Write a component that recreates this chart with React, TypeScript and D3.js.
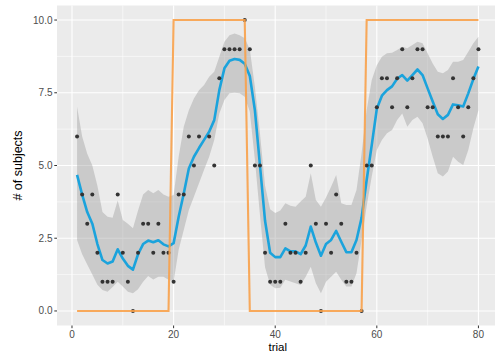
import React from "react";
import * as d3 from "d3";

// observed number of subjects per trial (trial = index + 1), null = not shown
const subjects: (number | null)[] = [
  6, 4, 3, 4, 2, 1, 1, 1, 4, 2,
  1, 0, 2, 3, 3, 2, 3, 2, 2, 1,
  4, 4, 6, 5, 6, null, 6, 5, 8, 9,
  9, 9, 9, 10, 9, 5, 5, 2, 1, 1,
  1, 3, 2, 2, 1, 2, 5, 3, 0, 3,
  2, 4, 3, 1, 1, 2, 0, 5, 5, 7,
  8, 8, 7, 8, 9, 7, 8, 9, 9, 7,
  7, 6, 6, 6, 8, 7, 6, 7, 8, 9,
];

// stimulus (orange)
const stimulus = [
  0, 0, 0, 0, 0, 0, 0, 0, 0, 0,
  0, 0, 0, 0, 0, 0, 0, 0, 0, 10,
  10, 10, 10, 10, 10, 10, 10, 10, 10, 10,
  10, 10, 10, 10, 0, 0, 0, 0, 0, 0,
  0, 0, 0, 0, 0, 0, 0, 0, 0, 0,
  0, 0, 0, 0, 0, 0, 0, 10, 10, 10,
  10, 10, 10, 10, 10, 10, 10, 10, 10, 10,
  10, 10, 10, 10, 10, 10, 10, 10, 10, 10,
];

// smooth fit and its band
const fit = [
  4.68, 4.0, 3.4, 3.0, 2.3, 1.75, 1.63, 1.7, 2.12, 1.8,
  1.55, 1.42, 1.95, 2.3, 2.42, 2.36, 2.43, 2.29, 2.22, 2.33,
  3.24, 4.04, 4.9, 5.3, 5.6, 5.88, 6.16, 6.56, 7.59, 8.34,
  8.6, 8.66, 8.63, 8.5, 8.08, 6.9, 5.0, 3.1, 2.0, 1.85,
  1.85, 2.15, 2.05, 2.05, 1.95, 2.25, 2.9, 2.35, 1.9, 2.3,
  2.44, 2.75, 2.38, 2.02, 2.02, 2.44, 3.2, 4.5, 5.7, 6.95,
  7.4, 7.59, 7.72, 7.98, 8.11, 7.92, 8.11, 8.3, 8.11, 7.65,
  7.2, 6.76, 6.6, 6.74, 7.1, 7.07, 7.03, 7.48, 7.97, 8.4,
];
const upper = [
  7.02, 6.0, 5.4, 5.0, 4.3, 3.4, 3.24, 3.2, 3.8, 3.13,
  3.0, 2.84, 3.45, 4.0, 4.16, 4.05, 4.16, 4.0, 3.93, 3.99,
  5.3, 6.33, 6.9, 7.3, 7.59, 7.77, 8.05, 8.22, 8.74, 9.25,
  9.48, 9.54, 9.48, 9.37, 9.0, 7.7, 6.1, 4.3, 3.5, 3.37,
  3.45, 3.7, 3.62, 3.58, 3.76, 3.93, 4.73, 3.81, 3.58, 3.9,
  4.27, 4.67, 3.7, 3.64, 3.64, 4.16, 5.42, 6.9, 7.94, 8.45,
  8.74, 8.86, 8.88, 8.97, 9.08, 9.03, 9.14, 9.25, 9.2, 8.86,
  8.51, 8.22, 8.17, 8.28, 8.57, 8.57, 8.63, 8.91, 9.2, 9.43,
];
const lower = [
  2.44, 1.95, 1.6, 1.25, 0.9, 0.72, 0.66, 0.82, 1.0, 0.84,
  0.66, 0.61, 0.75, 1.0, 1.2, 1.08, 1.18, 1.18, 1.07, 1.01,
  2.1, 2.78, 3.47, 3.93, 4.39, 4.85, 5.3, 5.88, 6.79, 7.25,
  7.48, 7.5, 7.48, 7.36, 6.85, 5.2, 3.3, 1.5, 0.9, 0.78,
  0.8, 1.07, 1.01, 0.95, 0.89, 1.18, 1.52, 0.95, 0.61, 1.0,
  1.18, 1.35, 1.07, 0.84, 0.84, 1.3, 2.44, 3.6, 4.62, 5.53,
  5.88, 6.11, 6.22, 6.56, 6.79, 6.33, 6.56, 6.68, 6.45, 5.93,
  5.3, 4.73, 4.62, 4.79, 5.3, 5.13, 5.02, 5.53, 6.28, 6.9,
];

const xTicks = [0, 20, 40, 60, 80];
const xMinor = [10, 30, 50, 70];
const yTicks = [0, 2.5, 5, 7.5, 10];
const yMinor = [1.25, 3.75, 6.25, 8.75];

const W = 495;
const H = 353;
const font = "'Liberation Sans', Arial, sans-serif";

export default function App() {
  const x = d3.scaleLinear().domain([-2.95, 83.95]).range([57, 498.5]);
  const y = d3.scaleLinear().domain([-0.5, 10.5]).range([325.5, 5.5]);
  const [x0, x1] = x.range();
  const [yb, yt] = y.range();

  const rows = fit.map((f, i) => ({ t: i + 1, f, lo: lower[i], hi: upper[i] }));
  const band = d3
    .area<(typeof rows)[0]>()
    .x((d) => x(d.t))
    .y0((d) => y(d.lo))
    .y1((d) => y(d.hi));
  const smooth = d3
    .line<(typeof rows)[0]>()
    .x((d) => x(d.t))
    .y((d) => y(d.f));
  const stim = d3
    .line<number>()
    .x((_, i) => x(i + 1))
    .y((d) => y(d));

  return (
    <div style={{ position: "fixed", left: 0, top: 0, width: W, height: H, overflow: "hidden" }}>
      <svg width={W} height={H} style={{ display: "block", background: "#fff" }}>
        <rect x={x0} y={yt} width={x1 - x0} height={yb - yt} fill="#EBEBEB" />
        {xMinor.map((v) => (
          <line key={"xm" + v} x1={x(v)} x2={x(v)} y1={yt} y2={yb} stroke="#fff" strokeWidth={0.55} />
        ))}
        {yMinor.map((v) => (
          <line key={"ym" + v} x1={x0} x2={x1} y1={y(v)} y2={y(v)} stroke="#fff" strokeWidth={0.55} />
        ))}
        {xTicks.map((v) => (
          <line key={"xg" + v} x1={x(v)} x2={x(v)} y1={yt} y2={yb} stroke="#fff" strokeWidth={1.1} />
        ))}
        {yTicks.map((v) => (
          <line key={"yg" + v} x1={x0} x2={x1} y1={y(v)} y2={y(v)} stroke="#fff" strokeWidth={1.1} />
        ))}

        <path d={band(rows) ?? ""} fill="#999999" fillOpacity={0.4} />
        <path d={smooth(rows) ?? ""} fill="none" stroke="#1BA3DC" strokeWidth={2.6} strokeLinejoin="round" />

        {subjects.map((v, i) =>
          v === null ? null : (
            <circle key={"p" + i} cx={x(i + 1)} cy={y(v)} r={2} fill="#333333" />
          )
        )}

        <path d={stim(stimulus) ?? ""} fill="none" stroke="#F8A14A" strokeOpacity={0.9} strokeWidth={2.1} />

        {/* axes */}
        {yTicks.map((v) => (
          <g key={"yt" + v}>
            <line x1={x0 - 2.7} x2={x0} y1={y(v)} y2={y(v)} stroke="#333" strokeWidth={1} />
            <text x={x0 - 4.5} y={y(v)} dy="0.35em" textAnchor="end" fontSize={10} fill="#4D4D4D" fontFamily={font}>
              {v.toFixed(1)}
            </text>
          </g>
        ))}
        {xTicks.map((v) => (
          <g key={"xt" + v}>
            <line x1={x(v)} x2={x(v)} y1={yb} y2={yb + 2.7} stroke="#333" strokeWidth={1} />
            <text x={x(v)} y={337.5} textAnchor="middle" fontSize={10} fill="#4D4D4D" fontFamily={font}>
              {v}
            </text>
          </g>
        ))}
        <text
          transform={`translate(22,${(yt + yb) / 2}) rotate(-90)`}
          textAnchor="middle"
          fontSize={12.5}
          fill="#000"
          fontFamily={font}
        >
          # of subjects
        </text>
        <text x={(x0 + x1) / 2} y={350.5} textAnchor="middle" fontSize={11.5} fill="#000" fontFamily={font}>
          trial
        </text>
      </svg>
    </div>
  );
}
